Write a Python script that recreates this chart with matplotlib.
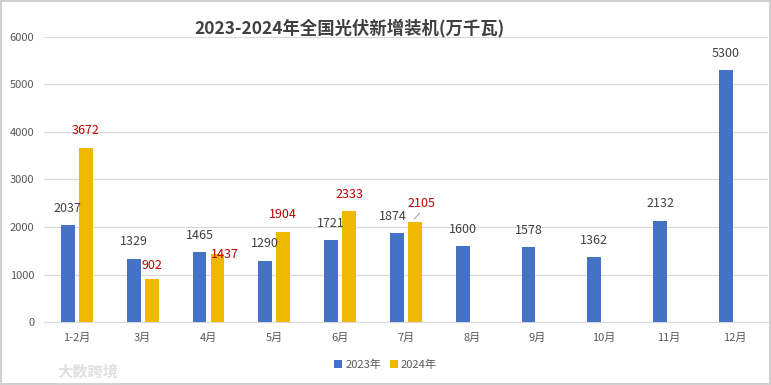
import matplotlib
matplotlib.use("Agg")
import matplotlib.pyplot as plt
import numpy as np

plt.rcParams['font.family'] = ['Noto Sans CJK SC', 'DejaVu Sans']

months = ['1-2月', '3月', '4月', '5月', '6月', '7月', '8月', '9月', '10月', '11月', '12月']
vals_2023 = [2037, 1329, 1465, 1290, 1721, 1874, 1600, 1578, 1362, 2132, 5300]
vals_2024 = [3672, 902, 1437, 1904, 2333, 2105]

blue = '#4472C4'
gold = '#F0B800'

fig = plt.figure(figsize=(7.71, 3.85), dpi=100)
fig.patch.set_edgecolor('#D0D0D0')
fig.patch.set_linewidth(1.5)
ax = fig.add_axes([0.057, 0.1636, 0.939, 0.7404])

x = np.arange(len(months))
w = 0.21
off = 0.137
ax.bar(x - off, vals_2023, w, color=blue, label='2023年', zorder=3)
ax.bar(x[:len(vals_2024)] + off, vals_2024, w, color=gold, label='2024年', zorder=3)

# label offsets in points (dx, dy)
for i, v in enumerate(vals_2023):
    dx, dy = 0, 7.5
    if i == 5:
        dx = -3
    ax.annotate(str(v), (x[i] - off, v), xytext=(dx, dy), textcoords='offset points',
                ha='center', va='bottom', fontsize=9, color='#404040')
for i, v in enumerate(vals_2024):
    dx, dy = 0, 7.5
    if i == 1:
        dy = 5
    if i == 2:
        dx, dy = 5, -5.5
    if i == 5:
        dx, dy = 5, 9
        ax.annotate('', (x[i] + off - 0.04, v + 20), xytext=(x[i] + off + 0.1, v + 230),
                    arrowprops=dict(arrowstyle='-', color='#A6A6A6', lw=0.8))
    ax.annotate(str(v), (x[i] + off, v), xytext=(dx, dy), textcoords='offset points',
                ha='center', va='bottom', fontsize=9, color='#C00000')

ax.set_ylim(0, 6000)
ax.set_xlim(-0.5, len(months) - 0.5)
ax.set_yticks(range(0, 6001, 1000))
ax.set_xticks(x)
ax.set_xticklabels(months)
ax.tick_params(axis='both', length=0, labelsize=8, colors='#595959')
ax.tick_params(axis='x', pad=8)
ax.tick_params(axis='y', pad=7)
ax.grid(axis='y', color='#D9D9D9', lw=0.8, zorder=0)
for s in ['top', 'right', 'left']:
    ax.spines[s].set_visible(False)
ax.spines['bottom'].set_color('#D9D9D9')

fig.text(0.453, 0.928, '2023-2024年全国光伏新增装机(万千瓦)', ha='center', va='center',
         fontsize=12.5, fontweight='bold', color='#404040')

fig.legend(loc='center', bbox_to_anchor=(0.5, 0.052), ncol=2, frameon=False,
           fontsize=8, handlelength=0.7, handleheight=0.7, handletextpad=0.3,
           columnspacing=0.8, labelcolor='#595959')

fig.text(0.075, 0.035, '大数跨境', fontsize=11, color='#E0E0E0', fontweight='bold',
         ha='left', va='center')

fig.savefig('out.png', dpi=100)
